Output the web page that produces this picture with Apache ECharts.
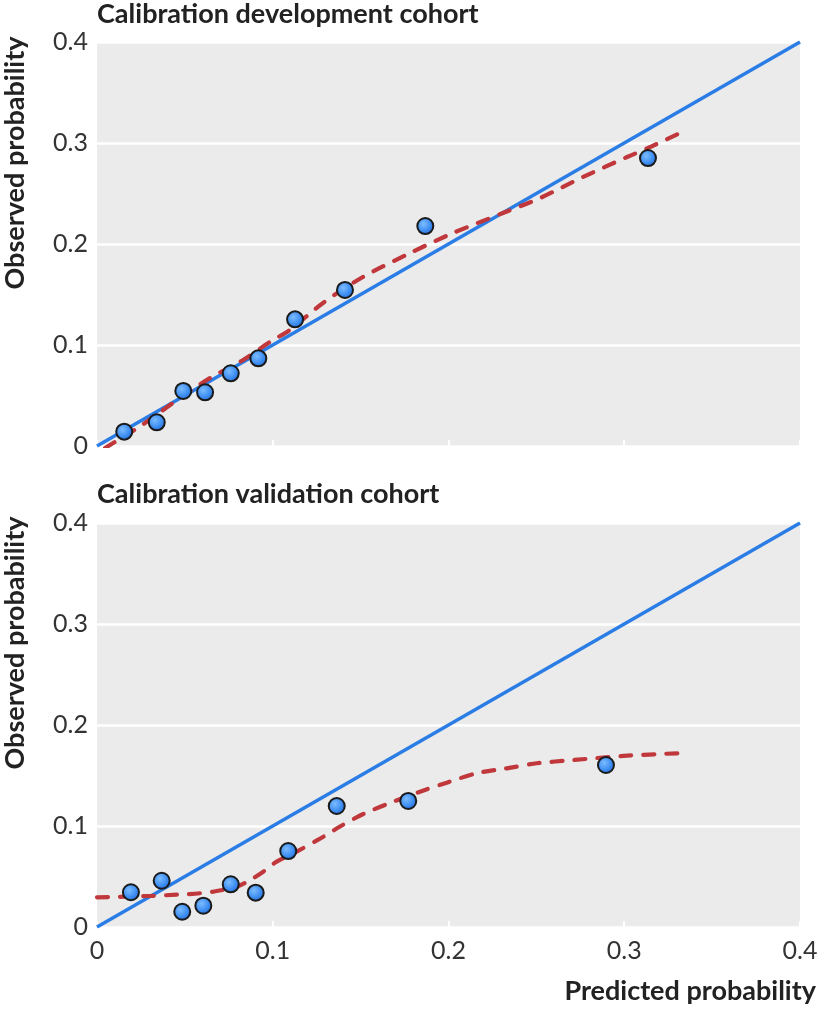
<!DOCTYPE html>
<html>
<head>
<meta charset="utf-8">
<script src="https://cdn.jsdelivr.net/npm/echarts@6/dist/echarts.min.js"></script>
<style>
html,body{margin:0;padding:0;background:#fff;}
#chart{width:824px;height:1012px;}
</style>
</head>
<body>
<div id="chart"></div>
<script>
// ---- data ----
var panelTitles = ['Calibration development cohort', 'Calibration validation cohort'];
var yAxisTitle = 'Observed probability';
var xAxisTitle = 'Predicted probability';
var tickValues = [0, 0.1, 0.2, 0.3, 0.4];
var tickLabels = ['0', '0.1', '0.2', '0.3', '0.4'];

var perfectLine = [[0, 0], [0.4, 0.4]];

var devPredicted = [0.0155, 0.034, 0.0491, 0.0615, 0.0761, 0.0918, 0.1127, 0.1411, 0.1868, 0.3135];
var devObserved  = [0.0142, 0.0235, 0.0545, 0.0532, 0.072, 0.0868, 0.1254, 0.1545, 0.2178, 0.2851];

var devSmoothX = [0.0046, 0.0256, 0.0455, 0.0643, 0.0831, 0.0984, 0.1098, 0.1286, 0.1513, 0.1781, 0.2026, 0.231, 0.2521, 0.2765, 0.3016, 0.3147, 0.3317];
var devSmoothY = [-0.002, 0.0208, 0.0455, 0.0673, 0.0851, 0.103, 0.115, 0.1416, 0.1673, 0.191, 0.2109, 0.2307, 0.2455, 0.2663, 0.2861, 0.296, 0.3099];

var valPredicted = [0.0193, 0.0368, 0.0485, 0.0605, 0.0761, 0.0903, 0.1088, 0.1364, 0.1771, 0.2896];
var valObserved  = [0.0344, 0.0458, 0.0151, 0.0211, 0.0423, 0.034, 0.0752, 0.1198, 0.1248, 0.1604];

var valSmoothX = [0, 0.015, 0.0302, 0.0453, 0.0586, 0.0681, 0.0795, 0.0871, 0.0946, 0.1022, 0.1136, 0.1288, 0.1383, 0.1515, 0.1686, 0.1838, 0.199, 0.216, 0.2331, 0.2502, 0.271, 0.3016, 0.3306];
var valSmoothY = [0.0294, 0.030, 0.0307, 0.032, 0.0334, 0.0356, 0.0399, 0.0465, 0.0548, 0.0647, 0.0746, 0.0894, 0.0995, 0.1119, 0.1241, 0.134, 0.1429, 0.1522, 0.1571, 0.1621, 0.1653, 0.1696, 0.172];

function zip(a, b) { return a.map(function (v, i) { return [v, b[i]]; }); }

var FONT = 'Lato, "Noto Sans", sans-serif';
var BLUE = '#2b7de6';
var RED = '#c0383b';

function fmt(v) {
  var i = tickValues.indexOf(Math.round(v * 10) / 10);
  return i >= 0 ? tickLabels[i] : '';
}

function xAxis(gridIndex, showLabels) {
  return {
    type: 'value', gridIndex: gridIndex, min: 0, max: 0.4, interval: 0.1,
    axisLine: {show: false},
    splitLine: {show: false},
    axisTick: {show: true, inside: true, length: 6, lineStyle: {color: '#ffffff', width: 2}},
    axisLabel: {show: showLabels, formatter: fmt, margin: 11, fontFamily: FONT, fontSize: 25, color: '#333333'}
  };
}
function yAxis(gridIndex) {
  return {
    type: 'value', gridIndex: gridIndex, min: 0, max: 0.4, interval: 0.1,
    axisLine: {show: false},
    axisTick: {show: false},
    splitLine: {show: true, lineStyle: {color: '#ffffff', width: 2.5}},
    axisLabel: {formatter: fmt, margin: 9, fontFamily: FONT, fontSize: 25, color: '#333333'}
  };
}

var markerColor = new echarts.graphic.RadialGradient(0.4, 0.38, 0.7, [
  {offset: 0, color: '#7cbcff'},
  {offset: 0.55, color: '#3f8ff2'},
  {offset: 1, color: '#1e66d6'}
]);

function panelSeries(gi, smoothX, smoothY, px, py) {
  return [
    {
      type: 'line', xAxisIndex: gi, yAxisIndex: gi, data: perfectLine,
      symbol: 'none', silent: true, z: 2,
      lineStyle: {color: BLUE, width: 3.5}
    },
    {
      type: 'line', xAxisIndex: gi, yAxisIndex: gi, data: zip(smoothX, smoothY),
      symbol: 'none', smooth: 0.3, silent: true, z: 3,
      lineStyle: {color: RED, width: 4.2, type: [11, 12], cap: 'round'}
    },
    {
      type: 'scatter', xAxisIndex: gi, yAxisIndex: gi, data: zip(px, py),
      symbol: 'circle', symbolSize: 16, z: 4,
      itemStyle: {color: markerColor, borderColor: '#1a1a1a', borderWidth: 2, opacity: 1}
    }
  ];
}

var chart = echarts.init(document.getElementById('chart'), null, {renderer: 'canvas'});
chart.setOption({
  animation: false,
  backgroundColor: '#ffffff',
  grid: [
    {left: 97, top: 42, width: 703, height: 404, show: true, backgroundColor: '#ebebeb', borderWidth: 0},
    {left: 97, top: 523, width: 703, height: 404, show: true, backgroundColor: '#ebebeb', borderWidth: 0}
  ],
  xAxis: [xAxis(0, false), xAxis(1, true)],
  yAxis: [yAxis(0), yAxis(1)],
  graphic: [
    {type: 'text', left: 97, top: 1, style: {text: panelTitles[0], font: 'bold 27px ' + FONT, fill: '#222222'}},
    {type: 'text', left: 97, top: 481, style: {text: panelTitles[1], font: 'bold 27px ' + FONT, fill: '#222222'}},
    {type: 'text', x: 15, y: 163, rotation: Math.PI / 2,
      style: {text: yAxisTitle, font: 'bold 27px ' + FONT, fill: '#222222', align: 'center', verticalAlign: 'middle'}},
    {type: 'text', x: 15, y: 643, rotation: Math.PI / 2,
      style: {text: yAxisTitle, font: 'bold 27px ' + FONT, fill: '#222222', align: 'center', verticalAlign: 'middle'}},
    {type: 'text', right: 8, top: 978, style: {text: xAxisTitle, font: 'bold 27px ' + FONT, fill: '#222222'}}
  ],
  series: [].concat(
    panelSeries(0, devSmoothX, devSmoothY, devPredicted, devObserved),
    panelSeries(1, valSmoothX, valSmoothY, valPredicted, valObserved)
  )
});
</script>
</body>
</html>
